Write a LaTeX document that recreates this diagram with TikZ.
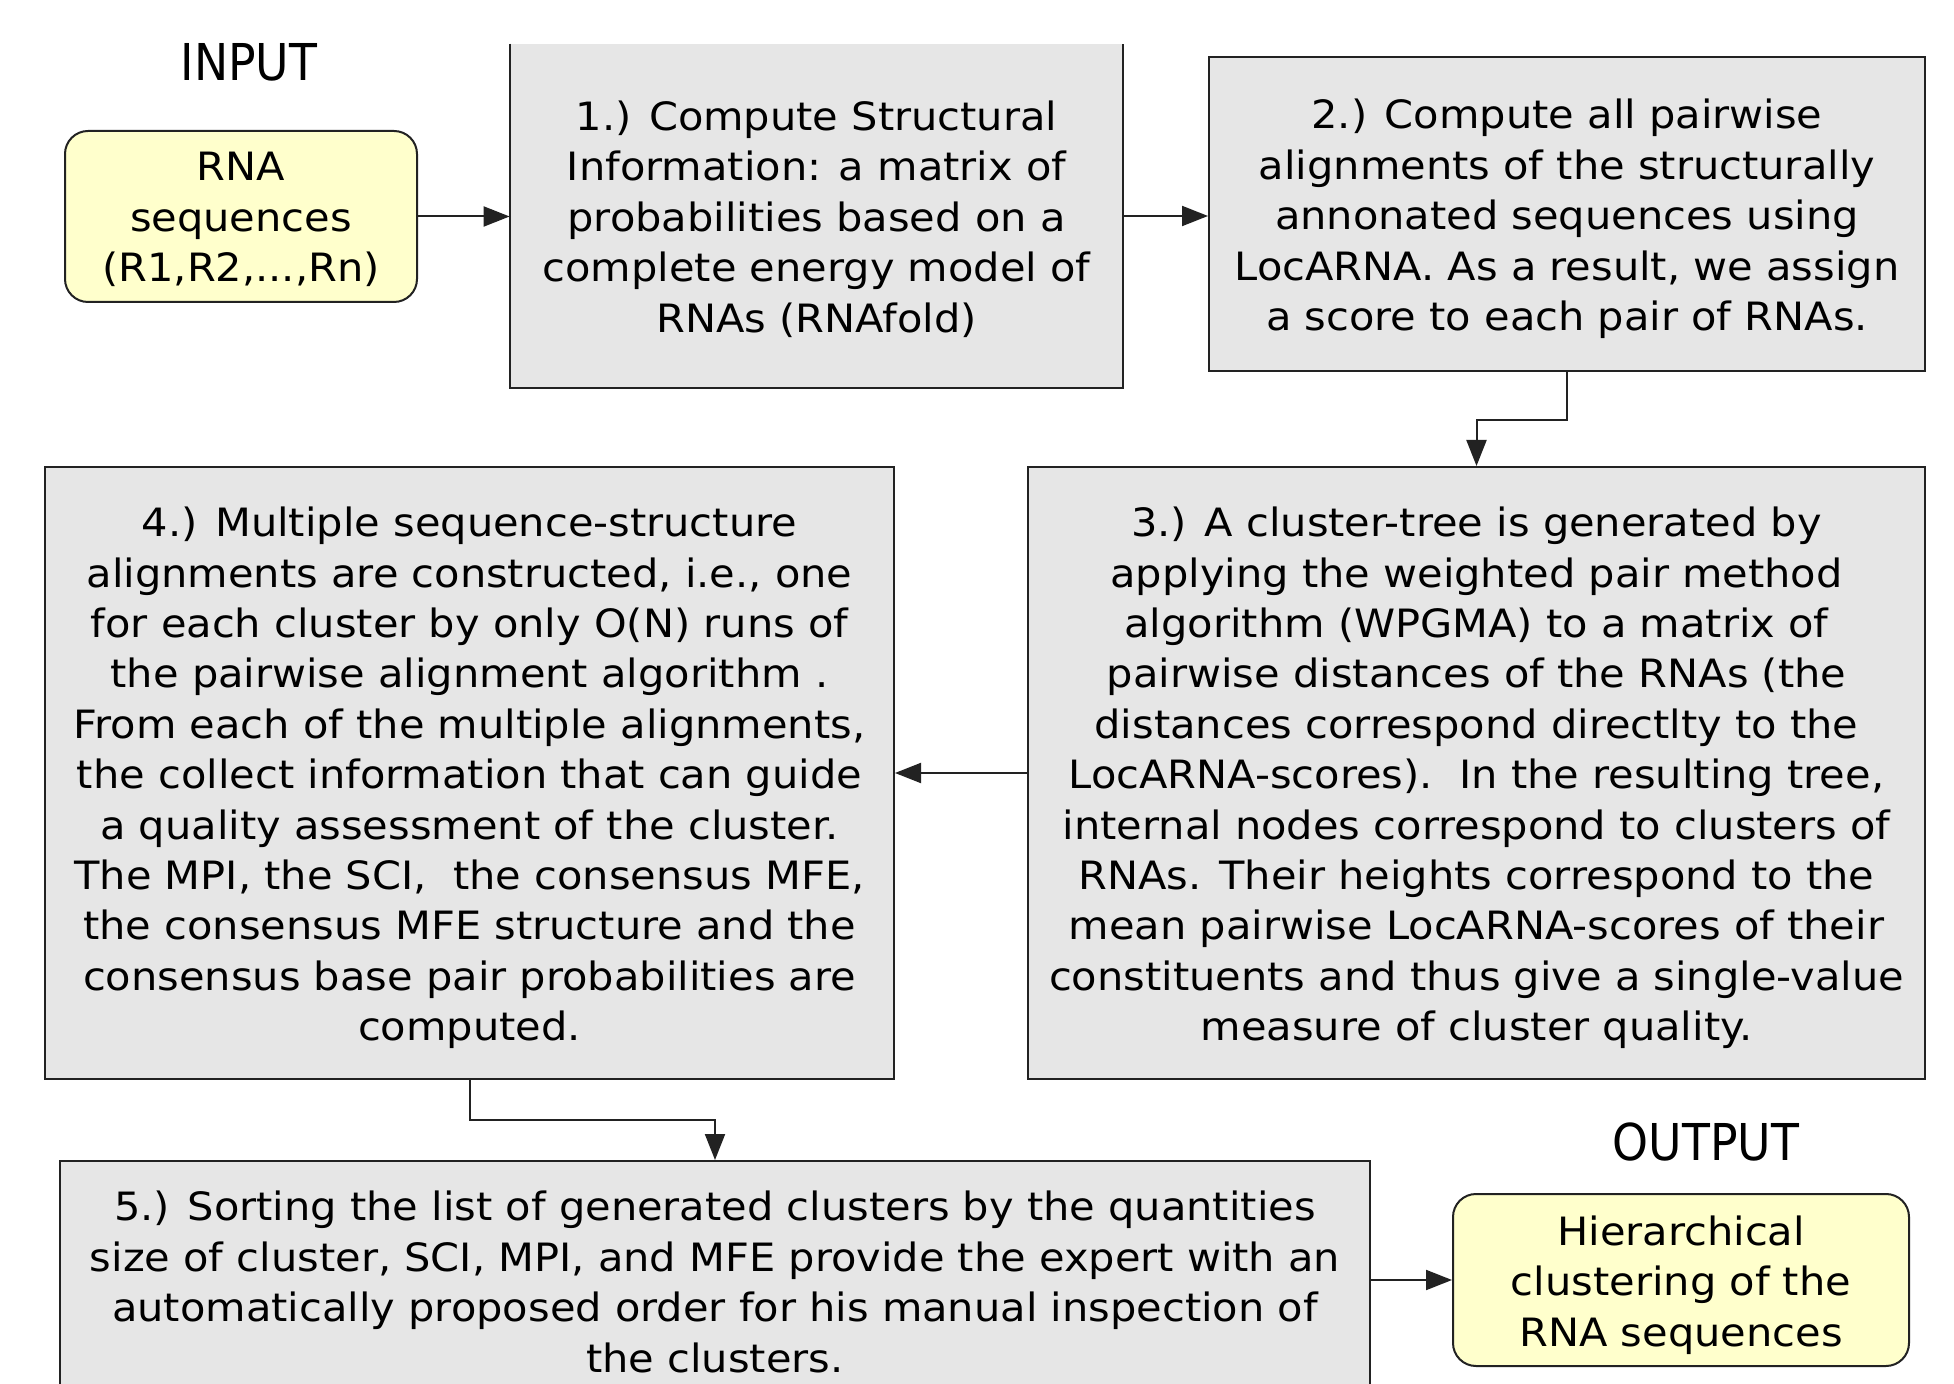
\documentclass[tikz,border=0pt]{standalone}
\usepackage{fontspec}
\setmainfont{DejaVu Sans}
\newfontfamily\bodyfont[FakeStretch=1.065]{DejaVu Sans}
\newfontfamily\headfont[FakeStretch=0.9]{DejaVu Sans}
\usetikzlibrary{arrows.meta}
\definecolor{boxgray}{HTML}{E6E6E6}
\definecolor{paleyellow}{HTML}{FFFFCC}
\definecolor{edge}{HTML}{222222}
\begin{document}
\begin{tikzpicture}[x=0.5pt,y=-0.5pt,
  txt/.style={font=\bodyfont\fontsize{19.5}{25.2}\selectfont, align=center, inner sep=0pt},
  graybox/.style={fill=boxgray, draw=edge, line width=1pt, inner sep=0pt},
  yellowbox/.style={fill=paleyellow, draw=edge, line width=1pt, rounded corners=11.5pt, inner sep=0pt},
  title/.style={font=\headfont\fontsize{25.4}{30}\selectfont, inner sep=0pt},
  arr/.style={draw=edge, line width=1pt, -{Triangle[length=13pt,width=10pt]}}]
\clip (0,0) rectangle (1954,1384);
\fill[white] (0,0) rectangle (1954,1384);

\node[title] (inp) at (249,62) {INPUT};
\node[title] (outp) at (1706,1142) {OUTPUT};

% boxes
\node[yellowbox, minimum width=176pt, minimum height=85.5pt] (rna) at (241,216.5) {};
\node[fill=boxgray, inner sep=0pt, minimum width=306.5pt, minimum height=172pt] (b1) at (816.5,216) {};
\draw[edge, line width=1pt] (b1.north west) -- (b1.south west) -- (b1.south east) -- (b1.north east);
\node[graybox, minimum width=358pt, minimum height=157pt] (b2) at (1567,214) {};
\node[graybox, minimum width=448.5pt, minimum height=306pt] (b3) at (1476.5,773) {};
\node[graybox, minimum width=424.5pt, minimum height=306pt] (b4) at (469.5,773) {};
\node[graybox, minimum width=655pt, minimum height=118pt] (b5) at (715,1279) {};
\node[yellowbox, minimum width=228pt, minimum height=86pt] (out) at (1681,1280) {};

% texts
\node[txt] (rnat) at ([yshift=-1.5pt]rna.center) {RNA\\sequences\\(R1,R2,...,Rn)};
\node[txt] (b1t) at ([yshift=-1.5pt]b1.center)
  {1.) Compute Structural\\Information: a matrix of\\probabilities based on a\\complete energy model of\\RNAs (RNAfold)};
\node[txt] (b2t) at ([yshift=-2.5pt]b2.center)
  {2.) Compute all pairwise\\alignments of the structurally\\annonated sequences using\\LocARNA. As a result, we assign\\a score to each pair of RNAs.};
\node[txt] (b3t) at ([yshift=-2.5pt]b3.center)
  {3.) A cluster-tree is generated by\\applying the weighted pair method\\algorithm (WPGMA) to a matrix of\\pairwise distances of the RNAs (the\\distances correspond directlty to the\\LocARNA-scores).\ \ In the resulting tree,\\internal nodes correspond to clusters of\\RNAs. Their heights correspond to the\\mean pairwise LocARNA-scores of their\\constituents and thus give a single-value\\measure of cluster quality.};
\node[txt] (b4t) at ([yshift=-2.5pt]b4.center)
  {4.) Multiple sequence-structure\\alignments are constructed, i.e., one\\for each cluster by only O(N) runs of\\the pairwise alignment algorithm .\\From each of the multiple alignments,\\the collect information that can guide\\a quality assessment of the cluster.\\The MPI, the SCI,\ \ the consensus MFE,\\the consensus MFE structure and the\\consensus base pair probabilities are\\computed.};
\node[txt] (b5t) at ([yshift=-1.5pt]b5.center)
  {5.) Sorting the list of generated clusters by the quantities\\size of cluster, SCI, MPI, and MFE provide the expert with an\\automatically proposed order for his manual inspection of\\the clusters.};
\node[txt] (outt) at ([yshift=-2.5pt]out.center)
  {Hierarchical\\clustering of the\\RNA sequences};

\coordinate (m1) at (0,420);
\coordinate (m2) at (0,1120);

\draw[arr] (rna.east) -- (rna.east -| b1.west);
\draw[arr] (b1.east) -- (b1.east -| b2.west);
\draw[arr] (b2.south) -- (b2.south |- m1) -| (b3.north);
\draw[arr] (b3.west) -- (b4.east);
\draw[arr] (b4.south) -- (b4.south |- m2) -| (b5.north);
\draw[arr] (b5.east |- out.west) -- (out.west);
\end{tikzpicture}
\end{document}
